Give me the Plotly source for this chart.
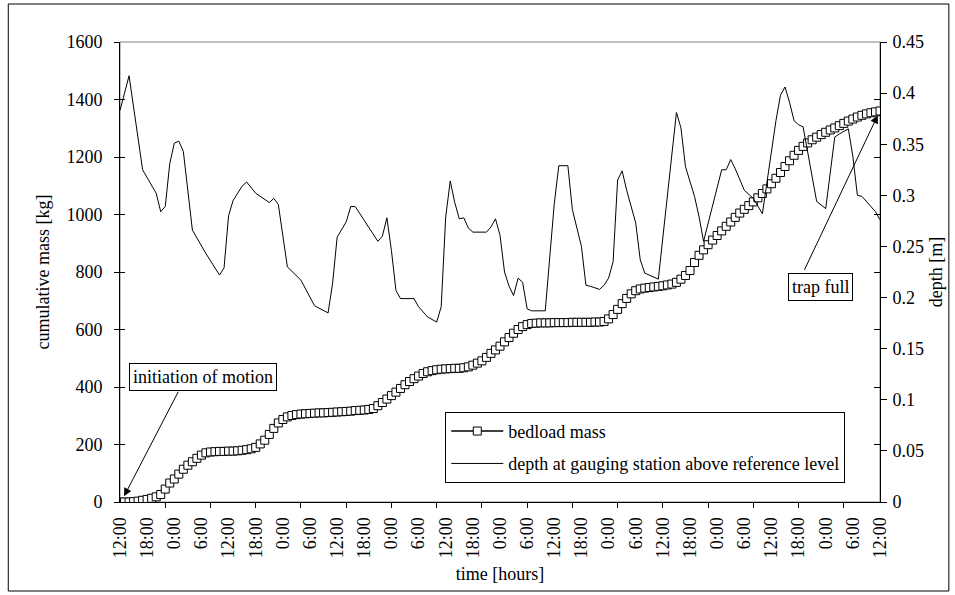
import plotly.graph_objects as go

FONT = "Liberation Serif, Times New Roman, serif"

# ---- data -------------------------------------------------------------
# x axis categories (hours from start, labels every 6 h)
tick_hours = list(range(0, 169, 6))
tick_cycle = ["12:00", "18:00", "0:00", "6:00"]
tick_labels = [tick_cycle[i % 4] for i in range(len(tick_hours))]
mark_hours = list(range(10, 168, 10))  # tick marks every 10 h

# cumulative bedload mass [kg], hourly from t = 0 h
mass_kg = [
    0, 0, 0, 1, 3, 6, 9, 13, 18, 26, 45, 66,
    80, 97, 114, 128, 140, 152, 163, 171, 174, 175, 176, 176,
    177, 177, 178, 180, 182, 185, 190, 202, 215, 235, 256, 275,
    287, 296, 301, 304, 306, 307, 308, 309, 310, 310, 311, 312,
    313, 314, 315, 316, 318, 319, 320, 322, 325, 335, 346, 358,
    370, 382, 395, 408, 419, 429, 438, 447, 453, 457, 460, 462,
    463, 464, 465, 465, 467, 470, 476, 483, 491, 503, 517, 529,
    542, 557, 572, 587, 600, 610, 617, 621, 622, 623, 623, 623,
    624, 624, 624, 624, 625, 625, 625, 625, 625, 626, 626, 628,
    637, 652, 670, 690, 708, 724, 735, 741, 744, 746, 748, 750,
    752, 755, 758, 764, 775, 788, 805, 833, 858, 877, 895, 911,
    927, 943, 959, 974, 990, 1005, 1018, 1031, 1044, 1058, 1073, 1089,
    1107, 1126, 1146, 1167, 1187, 1206, 1223, 1237, 1249, 1260, 1269, 1278,
    1286, 1294, 1301, 1309, 1317, 1325, 1332, 1339, 1345, 1350, 1354, 1357,
    1360,
]
mass_hours = list(range(len(mass_kg)))

# depth at gauging station [m] (readings at the times below, hours)
depth_hours = [
    0, 2, 5, 8, 9, 10, 11, 12, 13, 14,
    16, 19, 22, 23, 24, 25, 27, 28, 30, 33,
    34, 35, 37, 40, 43, 46, 47, 48, 50, 51,
    52, 57, 58, 59, 60, 61, 62, 65, 66, 68,
    70, 71, 72, 73, 74, 75, 76, 77, 78, 81,
    82, 83, 84, 85, 86, 87, 88, 89, 90, 91,
    94, 95, 96, 97, 99, 100, 102, 103, 104, 106,
    107, 108, 109, 110, 111, 112, 114, 115, 116, 119,
    123, 124, 125, 127, 128, 129, 133, 134, 135, 136,
    138, 140, 142, 145, 146, 147, 148, 149, 150, 151,
    154, 156, 157, 158, 159, 161, 162, 163, 164, 166,
    167, 168,
]
depth_m = [
    0.383, 0.417, 0.325, 0.302, 0.284, 0.289, 0.331, 0.351, 0.353, 0.343,
    0.266, 0.243, 0.222, 0.229, 0.280, 0.295, 0.309, 0.313, 0.302, 0.293,
    0.297, 0.291, 0.230, 0.217, 0.192, 0.185, 0.214, 0.259, 0.274, 0.289,
    0.289, 0.255, 0.260, 0.278, 0.246, 0.207, 0.199, 0.199, 0.191, 0.181,
    0.176, 0.191, 0.279, 0.314, 0.293, 0.277, 0.278, 0.268, 0.264, 0.264,
    0.269, 0.277, 0.261, 0.225, 0.211, 0.202, 0.219, 0.215, 0.189, 0.187,
    0.187, 0.243, 0.292, 0.329, 0.329, 0.286, 0.250, 0.212, 0.211, 0.208,
    0.212, 0.219, 0.235, 0.315, 0.324, 0.305, 0.273, 0.237, 0.224, 0.218,
    0.381, 0.366, 0.328, 0.299, 0.279, 0.255, 0.325, 0.325, 0.335, 0.326,
    0.305, 0.297, 0.282, 0.373, 0.398, 0.406, 0.391, 0.373, 0.369, 0.367,
    0.294, 0.287, 0.325, 0.357, 0.360, 0.365, 0.338, 0.300, 0.299, 0.289,
    0.284, 0.276,
]

mass_ticks = list(range(0, 1601, 200))
depth_ticks = [0, 0.05, 0.1, 0.15, 0.2, 0.25, 0.3, 0.35, 0.4, 0.45]
depth_tick_text = ["0", "0.05", "0.1", "0.15", "0.2", "0.25", "0.3", "0.35", "0.4", "0.45"]

# ---- figure -----------------------------------------------------------
fig = go.Figure()

fig.add_trace(go.Scatter(
    x=mass_hours, y=mass_kg, mode="lines+markers", name="bedload mass",
    line=dict(color="black", width=1.5),
    marker=dict(symbol="square", size=8, color="white",
                line=dict(color="black", width=1)),
    legendgroup="a",
))
fig.add_trace(go.Scatter(
    x=depth_hours, y=depth_m, mode="lines",
    name="depth at gauging station above reference level",
    line=dict(color="black", width=1), yaxis="y2", legendgroup="b",
))
# helper traces so the tick-mark-only axes are drawn
for xa, ya in [("x2", "y"), ("x", "y3"), ("x", "y4")]:
    fig.add_trace(go.Scatter(x=[None], y=[None], xaxis=xa, yaxis=ya,
                             showlegend=False, hoverinfo="skip"))

axis_font = dict(family=FONT, size=18, color="black")

fig.update_layout(
    width=955, height=595,
    margin=dict(l=120, r=73, t=42, b=93),
    paper_bgcolor="white", plot_bgcolor="white",
    font=axis_font,
    showlegend=True,
    xaxis=dict(
        range=[0, 168], tickmode="array", tickvals=tick_hours, ticktext=tick_labels,
        tickangle=-90, ticks="", showline=True, linecolor="black", linewidth=1,
        showgrid=False, zeroline=False, tickfont=axis_font, ticklabelstandoff=7,
        title=dict(text="time [hours]", font=axis_font, standoff=10),
    ),
    xaxis2=dict(
        overlaying="x", side="bottom", anchor="y", range=[0, 168],
        tickmode="array", tickvals=mark_hours, ticks="outside", ticklen=5,
        tickcolor="black", showticklabels=False, showline=False,
        showgrid=False, zeroline=False,
    ),
    yaxis=dict(
        range=[0, 1600], tickmode="array", tickvals=mass_ticks,
        ticks="outside", ticklen=5, tickcolor="black", showline=True,
        linecolor="black", linewidth=1, showgrid=False, zeroline=False,
        tickfont=axis_font, ticklabelstandoff=8,
        title=dict(text="cumulative mass [kg]", font=axis_font, standoff=12),
    ),
    yaxis2=dict(
        overlaying="y", side="right", range=[0, 0.45], tickmode="array",
        tickvals=depth_ticks, ticktext=depth_tick_text,
        ticks="outside", ticklen=6, tickcolor="black", showline=True,
        linecolor="black", linewidth=1, showgrid=False, zeroline=False,
        tickfont=axis_font, ticklabelstandoff=2,
        title=dict(text="depth [m]", font=axis_font, standoff=6),
    ),
    yaxis3=dict(
        overlaying="y", side="left", range=[0, 1600], tickmode="array",
        tickvals=mass_ticks, ticks="inside", ticklen=5, tickcolor="black",
        showticklabels=False, showline=False, showgrid=False, zeroline=False,
    ),
    yaxis4=dict(
        overlaying="y", side="right", range=[0, 1600], tickmode="array",
        tickvals=mass_ticks, ticks="inside", ticklen=6, tickcolor="black",
        showticklabels=False, showline=False, showgrid=False, zeroline=False,
    ),
    legend=dict(
        x=0.428, y=0.196, xanchor="left", yanchor="top",
        bgcolor="white", bordercolor="black", borderwidth=1,
        font=axis_font, tracegroupgap=6, itemwidth=52,
    ),
    shapes=[
        dict(type="rect", xref="paper", yref="paper", x0=0, x1=1, y0=0, y1=1,
             line=dict(color="#808080", width=1), layer="below"),
        dict(type="rect", xref="paper", yref="paper",
             x0=-0.147, x1=1.0906, y0=-0.1935, y1=1.0826,
             line=dict(color="black", width=1)),
    ],
    annotations=[
        dict(x=18.3, y=436, xref="x", yref="y", text="initiation of motion",
             showarrow=False, bgcolor="white", bordercolor="black",
             borderwidth=1, borderpad=3, font=axis_font),
        dict(x=0.9, y=20, xref="x", yref="y", text="", showarrow=True,
             ax=55, ay=-106, arrowhead=2, arrowsize=1.6, arrowwidth=1,
             arrowcolor="black"),
        dict(x=154.9, y=747, xref="x", yref="y", text="trap full",
             showarrow=False, bgcolor="white", bordercolor="black",
             borderwidth=1, borderpad=3, font=axis_font),
        dict(x=167.5, y=1345, xref="x", yref="y", text="", showarrow=True,
             ax=-74, ay=156, arrowhead=2, arrowsize=1.6, arrowwidth=1,
             arrowcolor="black"),
    ],
)

fig.write_html("out.html")
